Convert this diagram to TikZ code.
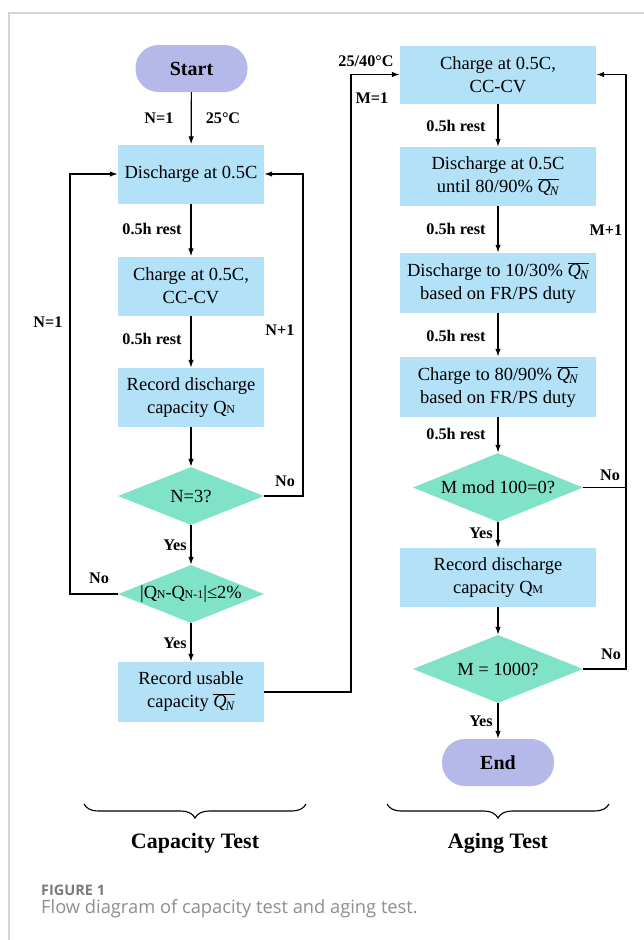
\documentclass[tikz,border=0pt]{standalone}
\usepackage{fontspec}
\setmainfont{Liberation Serif}
\newfontfamily\capfont{Open Sans}
\usetikzlibrary{arrows.meta,shapes.geometric,decorations.pathreplacing}
\definecolor{boxblue}{HTML}{B3E1F8}
\definecolor{diagreen}{HTML}{80E2C6}
\definecolor{termblue}{HTML}{B5B9E9}
\definecolor{framegray}{HTML}{D4D4D4}
\definecolor{capgray}{HTML}{7A7A7A}
\newcommand\qbar{$\overline{\mbox{\itshape Q\kern-0.06em\textsubscript{N}}}$}
\newcommand\qsc[1]{Q\kern-0.02em{\fontsize{12}{12}\selectfont #1}}
\begin{document}
\begin{tikzpicture}[x=1pt,y=-1pt,
  pbox/.style={fill=boxblue, minimum width=146pt, minimum height=59pt, inner sep=0pt,
    align=center, font=\fontsize{18.5}{23}\selectfont},
  wbox/.style={pbox, minimum width=196pt},
  dbox/.style={diamond, aspect=2.6, fill=diagreen, inner sep=0pt, minimum width=146pt,
    minimum height=58pt, font=\fontsize{18.5}{21}\selectfont},
  wdbox/.style={dbox, minimum width=170pt, minimum height=69pt},
  term/.style={fill=termblue, rounded corners=23pt, minimum width=112pt, minimum height=47pt,
    inner sep=0pt, font=\bfseries\fontsize{20}{24}\selectfont},
  lab/.style={font=\bfseries\fontsize{16.2}{19}\selectfont, inner sep=0pt},
  conn/.style={line width=1.2pt, -{Latex[length=8pt,width=5.5pt]}},
  plain/.style={line width=1.2pt},
  brc/.style={line width=1.1pt, decorate, decoration={brace, mirror, amplitude=14pt, aspect=0.5}},
  title/.style={font=\bfseries\fontsize{22}{26}\selectfont}
]
\useasboundingbox (0,0) rectangle (644,940);
\fill[white] (0,0) rectangle (644,940);
\draw[framegray, line width=1.2pt] (9,940) -- (9,13) -- (644,13);

% left column
\node[term] (start) at (191.5,68.5) {Start};
\node[pbox] (c1) at (191,174) {Discharge at 0.5C};
\node[pbox] (c2) at (191,286) {Charge at 0.5C,\\CC-CV};
\node[pbox] (c3) at (191,397.5) {Record discharge\\capacity \qsc{N}};
\node[dbox] (d1) at (191,496) {N=3?};
\node[dbox] (d2) at (191,594) {|\qsc{N}-\qsc{N-1}|≤2\%};
\node[pbox, minimum height=60pt] (c4) at (191,692) {Record usable\\capacity \qbar};

% right column
\node[wbox, minimum height=58pt] (a1) at (498,74.5) {Charge at 0.5C,\\CC-CV};
\node[wbox] (a2) at (498,176.5) {Discharge at 0.5C\\until 80/90\% \qbar};
\node[wbox, minimum height=60pt] (a3) at (498,283) {Discharge to 10/30\% \qbar\\based on FR/PS duty};
\node[wbox, minimum height=60pt] (a4) at (498,387) {Charge to 80/90\% \qbar\\based on FR/PS duty};
\node[wdbox] (ad1) at (498,487.5) {M mod 100=0?};
\node[wbox] (a5) at (498,577.5) {Record discharge\\capacity \qsc{M}};
\node[wdbox, minimum height=68pt] (ad2) at (498,669) {M = 1000?};
\node[term] (end) at (498,762.5) {End};

\coordinate (lx) at (70,0);
\coordinate (rx) at (303,0);
\coordinate (mx) at (351,0);
\coordinate (ax) at (626,0);

% left connectors
\draw[conn] (start) -- (c1);
\draw[conn] (c1) -- (c2);
\draw[conn] (c2) -- (c3);
\draw[conn] (c3) -- (d1);
\draw[conn] (d1) -- (d2);
\draw[conn] (d2) -- (c4);
\draw[conn] (d1.east) -- (d1.east -| rx) |- (c1.east);
\draw[conn] (d2.west) -- (d2.west -| lx) |- (c1.west);
\draw[conn] (c4.east) -- (c4.east -| mx) |- (a1.west);

% right connectors
\draw[conn] (a1) -- (a2);
\draw[conn] (a2) -- (a3);
\draw[conn] (a3) -- (a4);
\draw[conn] (a4) -- (ad1);
\draw[conn] (ad1) -- (a5);
\draw[conn] (a5) -- (ad2);
\draw[conn] (ad2) -- (end);
\draw[plain] (ad1.east) -- (ad1.east -| ax);
\draw[conn] (ad2.east) -- (ad2.east -| ax) |- (a1.east);

% labels
\node[lab] (l1) at (159,118) {N=1};
\node[lab] (l2) at (223,118) {25°C};
\node[lab] (l3) at (152,229) {0.5h rest};
\node[lab] (l4) at (152,339) {0.5h rest};
\node[lab] (l5) at (285,481) {No};
\node[lab] (l6) at (280,330) {N+1};
\node[lab] (l7) at (175,545) {Yes};
\node[lab] (l8) at (99,578) {No};
\node[lab] (l9) at (48,322) {N=1};
\node[lab] (l10) at (175,643) {Yes};
\node[lab] (l11) at (366,61) {25/40°C};
\node[lab] (l12) at (372,98) {M=1};
\node[lab] (l13) at (456,126) {0.5h rest};
\node[lab] (l14) at (456,229) {0.5h rest};
\node[lab] (l15) at (606,230) {M+1};
\node[lab] (l16) at (456,336) {0.5h rest};
\node[lab] (l17) at (456,434) {0.5h rest};
\node[lab] (l18) at (610,475) {No};
\node[lab] (l19) at (481,533) {Yes};
\node[lab] (l20) at (611,654) {No};
\node[lab] (l21) at (481,721) {Yes};

% braces and titles
\draw[brc] (84,804) -- (306,804);
\draw[brc] (387,804) -- (609,804);
\node[title] (t1) at (195,843) {Capacity Test};
\node[title] (t2) at (498,843) {Aging Test};

% caption
\node[anchor=west, inner sep=0pt, text=capgray, font=\capfont\bfseries\fontsize{14.5}{17}\selectfont] (f1) at (41,890) {FIGURE 1};
\node[anchor=west, inner sep=0pt, text=capgray!85, font=\capfont\fontsize{18.3}{22}\selectfont] (f2) at (41,909) {Flow diagram of capacity test and aging test.};
\end{tikzpicture}
\end{document}
